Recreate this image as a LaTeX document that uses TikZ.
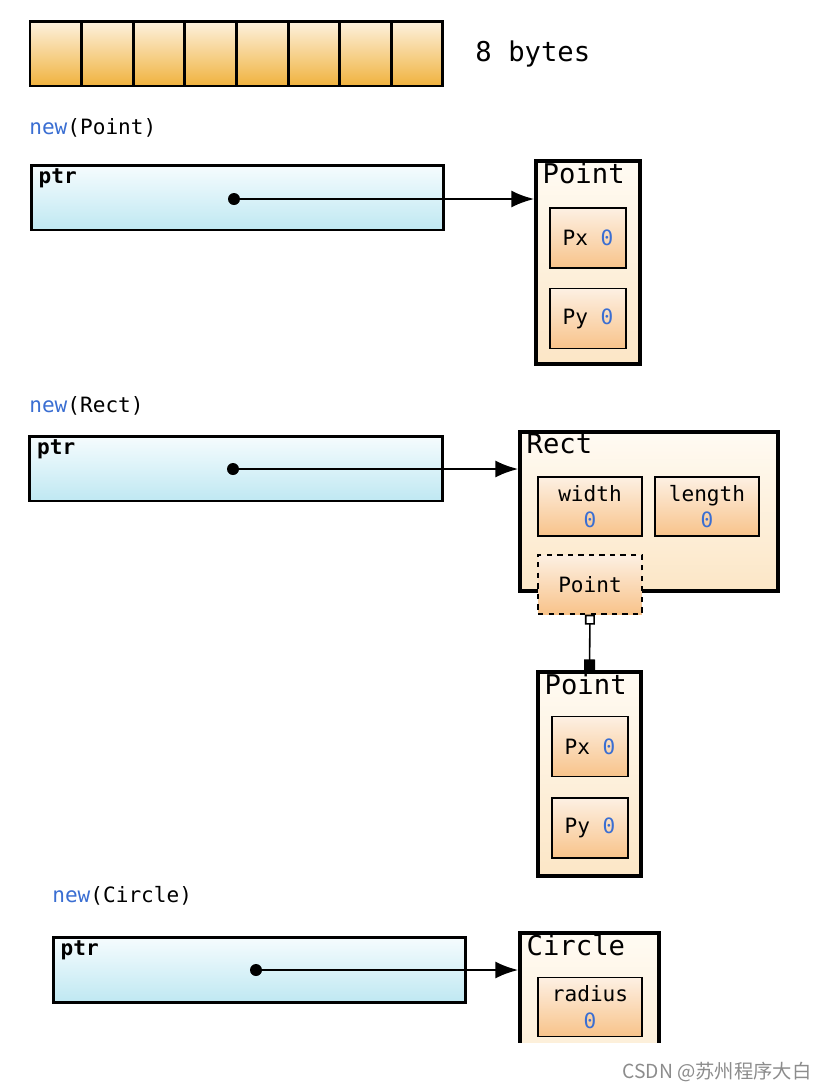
\documentclass[tikz,border=0pt]{standalone}
\usepackage{fontspec}
\setmainfont{DejaVu Sans Mono}
\newfontfamily\cjk{Noto Sans CJK SC}
\usepackage{xcolor}
\usepackage{tikz}
\usetikzlibrary{arrows.meta,positioning}
\definecolor{bytetop}{HTML}{FDF2DF}
\definecolor{bytebot}{HTML}{F0B23E}
\definecolor{ptrtop}{HTML}{F6FCFE}
\definecolor{ptrbot}{HTML}{BFE8F2}
\definecolor{objtop}{HTML}{FFFBF3}
\definecolor{objbot}{HTML}{FCE6C6}
\definecolor{fieldtop}{HTML}{FDF0E3}
\definecolor{fieldbot}{HTML}{F8C38A}
\definecolor{kwblue}{HTML}{3A6ED2}

\begin{document}
\begin{tikzpicture}[
    x=0.02cm,y=-0.02cm,
    font=\fontsize{12}{14}\selectfont,
    cell/.style={draw,line width=1.7pt,top color=bytetop,bottom color=bytebot,
      minimum width=1.032cm,minimum height=1.3cm,inner sep=0pt},
    ptrbox/.style={draw,line width=1.7pt,top color=ptrtop,bottom color=ptrbot,
      minimum width=8.26cm,minimum height=1.3cm,inner sep=0pt},
    objbox/.style={draw,line width=1.8pt,top color=objtop,bottom color=objbot,
      inner sep=0pt},
    field/.style={draw,line width=0.8pt,top color=fieldtop,bottom color=fieldbot,
      minimum width=2.08cm,minimum height=1.18cm,inner sep=0pt,align=center},
    title/.style={anchor=north west,inner xsep=4.5pt,inner ysep=1.5pt,
      font=\fontsize{15.5}{17}\selectfont},
    ptrlabel/.style={anchor=north west,inner xsep=5pt,inner ysep=3pt,
      font=\bfseries\fontsize{12}{14}\selectfont},
    newlabel/.style={anchor=west,inner sep=0pt},
    dot/.style={circle,fill,inner sep=0pt,minimum size=0.24cm},
    ref/.style={-{Latex[length=4.6mm,width=3.4mm]},line width=1.6pt},
    embed/.style={{Square[open,length=2mm,width=2mm]}-{Square[length=2.2mm,width=2.2mm]},
      line width=0.9pt}
  ]
  \useasboundingbox (0,0) rectangle (826,1090);
  \newcommand{\zero}{\textcolor{kwblue}{0}}

  % one word of memory
  \foreach \i in {0,...,7}
    \node[cell] (b\i) at ({55.8+51.6*\i},53.5) {};
  \node[right=0.5cm of b7,font=\fontsize{15.5}{17}\selectfont] (bytes) {8 bytes};

  % new(Point)
  \node[newlabel] (newpt) at (29,128) {\textcolor{kwblue}{new}(Point)};
  \node[ptrbox] (ptr1) at (237.5,197.5) {};
  \node[ptrlabel] (ptr1lbl) at (ptr1.north west) {ptr};
  \node[dot] (d1) at (234,199) {};
  \node[objbox,minimum width=2.08cm,minimum height=4.06cm] (pt1) at (588,262.5) {};
  \node[title] (pt1t) at (pt1.north west) {Point};
  \node[field,minimum width=1.52cm,minimum height=1.2cm] (px1) at (588,238) {Px \zero};
  \node[field,minimum width=1.52cm,minimum height=1.2cm] (py1) at (588,318.5) {Py \zero};
  \draw[ref] (d1.center) -- (d1.center -| pt1.west);

  % new(Rect)
  \node[newlabel] (newrect) at (29,406) {\textcolor{kwblue}{new}(Rect)};
  \node[ptrbox] (ptr2) at (236,468.5) {};
  \node[ptrlabel] (ptr2lbl) at (ptr2.north west) {ptr};
  \node[dot] (d2) at (233,469) {};
  \node[objbox,minimum width=5.16cm,minimum height=3.18cm] (rect) at (649,511.5) {};
  \node[title] (rectt) at (rect.north west) {Rect};
  \node[field] (wid) at (590,506.5) {width\\[1pt]\zero};
  \node[field] (len) at (707,506.5) {length\\[1pt]\zero};
  \node[field,dashed] (ptref) at (590,584.5) {Point};
  \draw[ref] (d2.center) -- (d2.center -| rect.west);

  \node[objbox,minimum width=2.06cm,minimum height=4.08cm] (pt2) at (589.5,774) {};
  \node[title] (pt2t) at (pt2.north west) {Point};
  \node[field,minimum width=1.52cm,minimum height=1.2cm] (px2) at (590,746.5) {Px \zero};
  \node[field,minimum width=1.52cm,minimum height=1.2cm] (py2) at (590,828) {Py \zero};
  \draw[embed] (ptref.south) -- (pt2.north);

  % new(Circle)
  \node[newlabel] (newcirc) at (52,896) {\textcolor{kwblue}{new}(Circle)};
  \node[ptrbox] (ptr3) at (259.5,969.5) {};
  \node[ptrlabel] (ptr3lbl) at (ptr3.north west) {ptr};
  \node[dot] (d3) at (256,970) {};
  \begin{scope}
    \clip (0,0) rectangle (826,1042);
    \node[objbox,minimum width=2.78cm,minimum height=4cm] (circ) at (589.5,1033) {};
    \node[title] (circt) at (circ.north west) {Circle};
    \node[field] (rad) at (590,1007) {radius\\[1pt]\zero};
  \end{scope}
  \draw[ref] (d3.center) -- (d3.center -| circ.west);

  \node[text=black!45,font=\cjk\fontsize{11}{13}\selectfont] (mark) at (717,1072)
    {CSDN @苏州程序大白};
\end{tikzpicture}
\end{document}
